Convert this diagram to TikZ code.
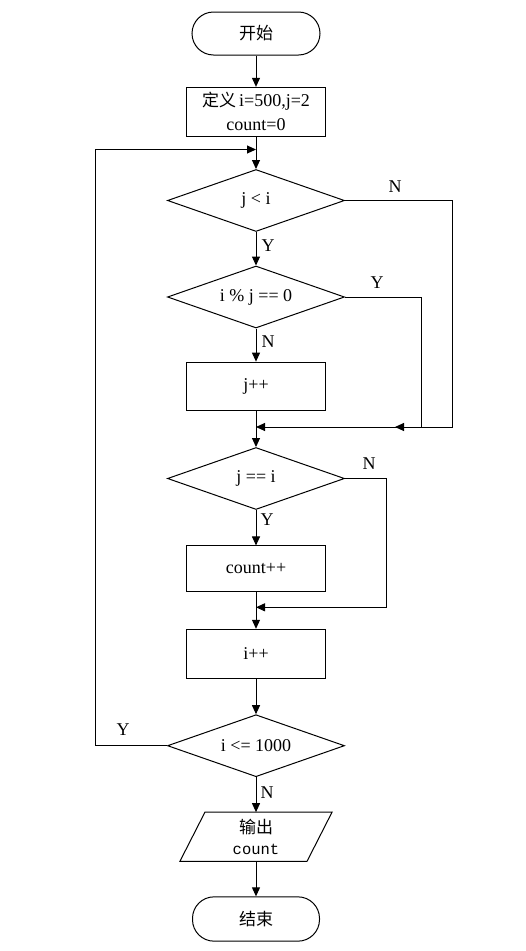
\documentclass[tikz,border=0pt]{standalone}
\usepackage{fontspec}
\setmainfont{Liberation Serif}
\setmonofont{Liberation Mono}
\newfontfamily\cjk{Noto Sans CJK SC}
\usetikzlibrary{shapes.geometric,arrows.meta}
\begin{document}
\begin{tikzpicture}[x=1pt,y=-1pt,
  every node/.style={font=\fontsize{18}{24}\selectfont},
  base/.style={draw=black,line width=1pt,inner sep=0pt,align=center},
  terminal/.style={base,rectangle,rounded corners=21.5pt,minimum width=128pt,minimum height=43pt},
  procbox/.style={base,rectangle,minimum width=138.3pt,minimum height=48.7pt},
  decision/.style={base,diamond,minimum width=177pt,minimum height=62pt,aspect=2.85},
  iobox/.style={inner sep=0pt,align=center,minimum width=151.7pt,minimum height=48.7pt},
  conn/.style={draw=black,line width=1pt},
  arr/.style={conn,-{Triangle[length=9pt,width=8pt]}},
  lbl/.style={inner sep=0pt}
]
\useasboundingbox (0,0) rectangle (526,951);
\fill[white] (0,0) rectangle (526,951);

\node[terminal] (start) at (256,33.5) {\cjk\fontsize{17}{24}\selectfont 开始};
\node[procbox] (init) at (256,111.7) {{\cjk\fontsize{17}{24}\selectfont 定义}\,i=500,j=2\\count=0};
\node[decision] (d1) at (256,200.5) {j < i};
\node[decision] (d2) at (256,297) {i \% j == 0};
\node[procbox] (jpp) at (256,386.5) {j++};
\node[decision] (d3) at (256,478.5) {j == i};
\node[procbox,minimum height=45.7pt] (cpp) at (256,568.8) {count++};
\node[procbox,minimum height=49pt] (ipp) at (256,653.8) {i++};
\node[decision] (d4) at (256,745.7) {i <= 1000};
\node[iobox] (out) at (256,836.7) {{\cjk\fontsize{17}{24}\selectfont 输出}\\[-3pt]{\fontsize{15.5}{21}\selectfont\ttfamily count}};
\node[terminal,minimum width=127pt,minimum height=44.3pt] (end) at (256,919) {\cjk\fontsize{17}{24}\selectfont 结束};

\draw[conn] ([xshift=25pt]out.north west) -- (out.north east)
  -- ([xshift=-25pt]out.south east) -- (out.south west) -- cycle;

\coordinate (top) at (256,149.5);
\coordinate (lp) at (95,149.5);
\coordinate (m1) at (256,427);
\coordinate (r1) at (452.5,427);
\coordinate (r2) at (421,427);
\coordinate (a2) at (395,427);
\coordinate (m2) at (256,607.3);
\coordinate (r3) at (386.7,607.3);

\draw[arr] (start) -- (init);
\draw[arr] (init) -- (d1);
\draw[arr] (d4.west) -| (lp) -- (top);
\draw[arr] (d1) -- (d2);
\draw[arr] (d2) -- (jpp);
\draw[arr] (jpp) -- (d3);
\draw[arr] (d1.east) -| (r1) -- (m1);
\draw[arr] (d2.east) -| (r2) -- (a2);
\draw[arr] (d3) -- (cpp);
\draw[arr] (cpp) -- (ipp);
\draw[arr] (d3.east) -| (r3) -- (m2);
\draw[arr] (ipp) -- (d4);
\draw[arr] (d4) -- (out);
\draw[arr] (out) -- (end);

\node[lbl] (y1) at (268,246) {Y};
\node[lbl] (n1) at (395,187) {N};
\node[lbl] (y2) at (377,283) {Y};
\node[lbl] (n2) at (268,342) {N};
\node[lbl] (n3) at (369,464) {N};
\node[lbl] (y3) at (267,520) {Y};
\node[lbl] (y4) at (123,730) {Y};
\node[lbl] (n4) at (267,793) {N};
\end{tikzpicture}
\end{document}
